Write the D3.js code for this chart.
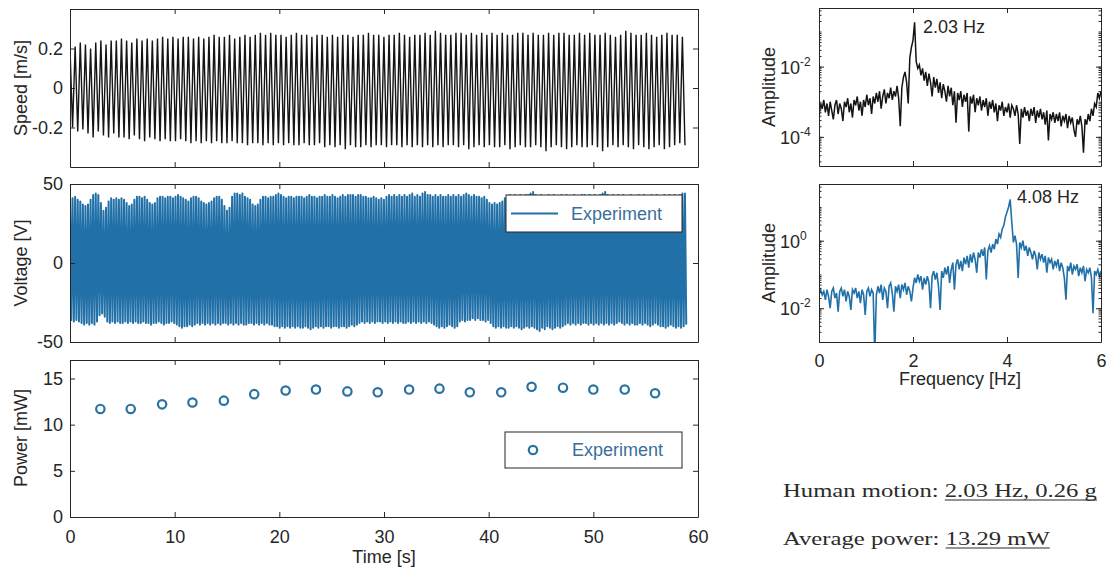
<!DOCTYPE html>
<html>
<head>
<meta charset="utf-8">
<script src="https://cdn.jsdelivr.net/npm/d3@7"></script>
<style>
  body { margin: 0; background: #fff; }
</style>
</head>
<body>
<div id="chart"></div>
<script>
// ---- data ----

// speed: one peak and one trough per cycle (about 2.03 Hz over 59 s)
const speedPeaks = [
  0.20,0.21,0.23,0.22,0.20,0.23,0.24,0.22,0.24,0.24,
  0.25,0.24,0.23,0.25,0.24,0.25,0.24,0.25,0.26,0.25,
  0.26,0.25,0.26,0.26,0.25,0.26,0.25,0.26,0.27,0.26,
  0.26,0.27,0.25,0.26,0.27,0.26,0.27,0.28,0.27,0.28,
  0.27,0.27,0.26,0.27,0.28,0.27,0.27,0.26,0.27,0.27,
  0.26,0.27,0.26,0.27,0.27,0.26,0.27,0.27,0.28,0.27,
  0.27,0.26,0.27,0.27,0.28,0.27,0.26,0.27,0.27,0.28,
  0.27,0.29,0.28,0.27,0.27,0.28,0.28,0.27,0.28,0.27,
  0.28,0.27,0.28,0.27,0.28,0.27,0.27,0.28,0.28,0.27,
  0.28,0.27,0.27,0.28,0.27,0.28,0.28,0.27,0.27,0.28,
  0.27,0.28,0.27,0.27,0.28,0.27,0.26,0.27,0.29,0.28,
  0.27,0.27,0.28,0.27,0.26,0.27,0.28,0.27,0.27,0.26];
const speedTroughs = [
  -0.20,-0.22,-0.21,-0.23,-0.25,-0.22,-0.24,-0.25,-0.23,-0.25,
  -0.25,-0.26,-0.24,-0.26,-0.27,-0.25,-0.26,-0.27,-0.26,-0.27,
  -0.27,-0.26,-0.27,-0.28,-0.27,-0.28,-0.27,-0.28,-0.27,-0.28,
  -0.28,-0.27,-0.28,-0.28,-0.29,-0.28,-0.28,-0.29,-0.28,-0.29,
  -0.28,-0.29,-0.28,-0.29,-0.29,-0.28,-0.29,-0.29,-0.28,-0.30,
  -0.29,-0.30,-0.29,-0.31,-0.29,-0.30,-0.30,-0.29,-0.30,-0.29,
  -0.29,-0.30,-0.29,-0.29,-0.30,-0.29,-0.30,-0.29,-0.30,-0.29,
  -0.30,-0.29,-0.30,-0.29,-0.29,-0.30,-0.29,-0.31,-0.30,-0.29,
  -0.30,-0.29,-0.30,-0.30,-0.29,-0.31,-0.30,-0.29,-0.30,-0.30,
  -0.29,-0.30,-0.32,-0.30,-0.29,-0.30,-0.31,-0.30,-0.29,-0.30,
  -0.30,-0.29,-0.30,-0.32,-0.30,-0.29,-0.30,-0.29,-0.30,-0.31,
  -0.29,-0.30,-0.31,-0.30,-0.29,-0.31,-0.30,-0.29,-0.28,-0.29];
const speedCycle = 59 / 120;   // s per cycle

// voltage: one peak and one trough per cycle (about 4.08 Hz)
const voltPeaks = [
  42,41,42,40,39,37,36,37,40,43, 44,43,38,33,35,39,41,40,41,40,
  41,40,38,36,37,40,42,42,41,42, 40,38,37,38,41,42,42,41,42,42,
  41,42,43,42,41,40,39,41,42,42, 41,39,38,37,38,39,41,42,42,40,
  36,33,35,42,44,44,43,44,42,41, 40,37,36,37,40,42,42,41,42,42,
  43,44,43,42,41,42,42,41,42,42, 42,41,42,43,42,42,41,42,42,43,
  42,42,43,42,41,42,43,42,43,43, 43,42,43,43,42,42,41,41,42,41,
  40,41,40,42,43,42,43,42,43,42, 43,42,43,44,42,43,42,44,45,43,
  43,42,43,42,43,42,42,43,42,43, 42,43,42,43,44,43,42,43,42,42,
  41,42,40,38,37,38,37,38,39,41, 42,43,42,43,42,43,42,43,43,44,
  45,43,42,43,42,42,43,42,43,42, 42,43,42,43,42,42,43,42,42,43,
  43,42,43,42,43,42,43,44,45,43, 42,43,42,43,42,43,42,42,43,42,
  42,43,42,43,42,42,43,42,43,42, 42,43,42,43,42,43,42,43,44,44];
const voltTroughs = [
  -36,-37,-36,-37,-38,-39,-38,-39,-38,-39, -37,-33,-32,-34,-37,-38,-37,-38,-37,-38,
  -38,-37,-38,-37,-38,-37,-38,-38,-37,-38, -38,-39,-38,-38,-37,-38,-39,-38,-38,-37,
  -38,-39,-40,-41,-40,-40,-39,-40,-39,-38, -39,-38,-39,-38,-39,-38,-39,-38,-39,-38,
  -38,-39,-38,-39,-38,-39,-38,-39,-39,-38, -38,-39,-38,-39,-38,-39,-38,-39,-39,-40,
  -40,-41,-40,-41,-40,-41,-40,-41,-40,-41, -41,-40,-41,-42,-41,-40,-41,-40,-41,-40,
  -40,-41,-40,-40,-41,-40,-40,-41,-40,-39, -40,-39,-38,-37,-38,-37,-38,-37,-38,-37,
  -37,-38,-37,-38,-37,-38,-37,-38,-37,-38, -38,-37,-38,-37,-38,-37,-38,-37,-38,-37,
  -38,-39,-40,-41,-40,-41,-40,-39,-40,-41, -40,-37,-36,-37,-36,-36,-35,-36,-35,-36,
  -36,-37,-36,-38,-40,-41,-40,-41,-40,-41, -41,-40,-41,-40,-41,-42,-41,-40,-41,-40,
  -41,-42,-43,-41,-42,-40,-41,-42,-41,-40, -41,-40,-39,-38,-39,-38,-39,-38,-39,-38,
  -38,-39,-38,-39,-38,-39,-38,-39,-38,-39, -38,-39,-38,-37,-38,-39,-38,-39,-38,-39,
  -39,-38,-39,-38,-39,-40,-39,-38,-39,-40, -40,-41,-40,-39,-40,-41,-40,-41,-40,-39];
const voltCycle = 59 / 240;

// average power per window
const powerTime  = [2.9,5.8,8.8,11.7,14.7,17.6,20.6,23.5,26.5,29.4,32.4,35.3,38.2,41.2,44.1,47.1,50.0,53.0,55.9];
const powerValue = [11.7,11.7,12.2,12.4,12.6,13.3,13.7,13.8,13.6,13.5,13.8,13.9,13.5,13.5,14.1,14.0,13.8,13.8,13.4];

// spectra, log10(amplitude) per FFT bin
const fftBinHz = 2 / 59;
const speedSpecLog10 = [
  -3.45,-3.05,-3.20,-2.95,-3.30,-3.05,-3.40,-3.00,-3.25,-3.50,
  -3.10,-2.95,-3.35,-3.05,-3.20,-3.55,-3.00,-3.15,-2.90,-3.30,
  -3.05,-3.45,-2.95,-3.10,-2.85,-3.25,-3.00,-3.40,-2.95,-3.15,
  -2.80,-3.10,-2.90,-3.35,-2.85,-3.05,-2.75,-3.00,-2.70,-3.20,
  -2.85,-2.65,-3.05,-2.75,-2.90,-2.60,-2.95,-2.70,-2.85,-2.55,
  -2.90,-3.70,-2.60,-2.30,-2.15,-2.45,-3.05,-1.75,-1.45,-1.25,
  -0.74,-1.85,-2.05,-1.95,-2.25,-2.05,-2.40,-2.15,-2.55,-2.20,
  -2.45,-2.85,-2.30,-2.60,-2.35,-2.75,-2.45,-2.90,-2.50,-2.70,
  -3.00,-2.55,-2.85,-2.60,-3.10,-2.70,-3.60,-2.75,-2.95,-2.70,
  -3.15,-2.80,-3.00,-2.75,-3.85,-2.85,-3.05,-2.80,-3.30,-2.90,
  -3.10,-2.85,-3.25,-2.95,-3.15,-2.90,-3.40,-3.00,-3.20,-2.95,
  -3.30,-3.05,-3.55,-3.10,-3.25,-3.00,-3.40,-3.15,-3.30,-3.05,
  -3.45,-3.10,-3.20,-3.40,-3.10,-3.35,-4.20,-3.20,-3.45,-3.15,
  -3.40,-3.25,-3.55,-3.20,-3.40,-3.15,-3.60,-3.25,-3.45,-3.20,
  -3.50,-3.30,-3.65,-3.25,-4.10,-3.35,-3.50,-3.30,-3.60,-3.35,
  -3.55,-3.30,-3.70,-3.40,-3.55,-3.35,-3.75,-3.40,-3.60,-3.45,
  -3.80,-4.00,-3.50,-3.65,-3.40,-3.70,-4.45,-3.50,-3.65,-3.35,
  -3.55,-3.20,-3.40,-3.05,-3.15,-2.75,-2.90,-2.70];
const voltSpecLog10 = [
  -1.55,-1.45,-1.60,-1.50,-1.75,-1.45,-1.65,-2.00,-1.50,-1.40,
  -1.70,-1.55,-2.10,-1.50,-1.40,-1.65,-1.45,-1.80,-1.50,-1.65,
  -2.05,-1.45,-1.55,-1.40,-1.70,-1.50,-1.85,-1.45,-1.60,-2.20,
  -1.50,-1.40,-1.65,-1.45,-1.55,-3.40,-1.60,-1.35,-1.55,-1.30,
  -1.75,-1.40,-1.50,-2.00,-1.35,-1.25,-1.55,-2.10,-1.35,-1.50,
  -1.30,-1.70,-1.30,-1.45,-1.25,-1.60,-1.35,-1.50,-1.80,-1.40,
  -1.10,-1.25,-1.00,-1.20,-1.05,-1.45,-1.10,-1.30,-1.05,-1.25,
  -2.00,-1.05,-0.90,-1.15,-0.95,-1.35,-2.05,-0.90,-1.10,-0.80,
  -1.00,-0.75,-1.25,-0.85,-0.65,-1.45,-0.70,-0.55,-0.85,-0.60,
  -0.90,-0.50,-0.70,-0.45,-0.80,-0.40,-0.65,-0.35,-0.55,-0.95,
  -0.35,-0.50,-0.25,-0.45,-0.20,-1.15,-0.30,-0.15,-0.35,-0.10,
  -0.25,0.05,-0.10,0.20,0.10,0.35,0.45,0.70,0.85,1.00,
  1.22,0.55,-0.05,0.15,-0.10,-1.10,-0.05,-0.20,0.00,-0.30,
  -0.15,-0.45,-0.20,-0.35,-0.55,-0.30,-0.45,-0.85,-0.35,-0.55,
  -0.40,-0.65,-0.45,-0.95,-0.50,-0.65,-0.55,-0.85,-0.60,-0.75,
  -0.55,-0.90,-0.65,-0.80,-1.10,-1.75,-0.75,-0.90,-0.65,-1.00,
  -0.75,-0.85,-0.70,-1.05,-0.80,-0.95,-0.75,-1.20,-0.85,-0.95,
  -0.80,-1.10,-2.15,-0.90,-1.00,-0.85,-1.05,-0.90];

const timeTicks = [0, 10, 20, 30, 40, 50, 60];
const freqTicks = [0, 2, 4, 6];

// ---- drawing ----
const width = 1109, height = 569;
const ink = "#262626";
const blue = "#2170a8";
const font = "'Liberation Sans', Arial, sans-serif";

const svg = d3.select("#chart")
  .append("svg")
  .attr("width", width)
  .attr("height", height)
  .attr("font-family", font);

const defs = svg.append("defs");
let clipCount = 0;
function clipFor(x, y) {
  const id = "clip" + (clipCount++);
  const [x0, x1] = x.range(), [y0, y1] = y.range();
  defs.append("clipPath").attr("id", id)
    .append("rect").attr("x", x0).attr("y", y1).attr("width", x1 - x0).attr("height", y0 - y1);
  return "url(#" + id + ")";
}

function styleAxis(g) {
  g.attr("font-family", font).attr("font-size", 18);
  g.selectAll("path.domain").attr("stroke", ink);
  g.selectAll(".tick line").attr("stroke", ink);
  g.selectAll(".tick text").attr("fill", ink);
}

// box with inward ticks on all four sides, MATLAB style
function drawBox(x, y, opt) {
  const [xl, xr] = x.range();
  const [yb, yt] = y.range();
  const g = svg.append("g");
  g.append("g").attr("transform", `translate(0,${yb})`)
    .call(d3.axisBottom(x).tickValues(opt.xTicks).tickSizeInner(-5).tickSizeOuter(0)
      .tickPadding(opt.xPad || 12).tickFormat(opt.xLabels ? (d => d) : () => ""))
    .call(styleAxis);
  g.append("g").attr("transform", `translate(0,${yt})`)
    .call(d3.axisTop(x).tickValues(opt.xTicks).tickSizeInner(-5).tickSizeOuter(0).tickFormat(() => ""))
    .call(styleAxis);
  g.append("g").attr("transform", `translate(${xl},0)`)
    .call(d3.axisLeft(y).tickValues(opt.yTicks).tickSizeInner(-5).tickSizeOuter(0)
      .tickPadding(7).tickFormat(opt.yFormat || (() => "")))
    .call(styleAxis);
  g.append("g").attr("transform", `translate(${xr},0)`)
    .call(d3.axisRight(y).tickValues(opt.yTicks).tickSizeInner(-5).tickSizeOuter(0).tickFormat(() => ""))
    .call(styleAxis);
  if (opt.minor) {
    g.append("g").attr("transform", `translate(${xl},0)`)
      .call(d3.axisLeft(y).tickValues(opt.minor).tickSizeInner(-2.5).tickSizeOuter(0).tickFormat(() => ""))
      .call(styleAxis).select("path.domain").remove();
    g.append("g").attr("transform", `translate(${xr},0)`)
      .call(d3.axisRight(y).tickValues(opt.minor).tickSizeInner(-2.5).tickSizeOuter(0).tickFormat(() => ""))
      .call(styleAxis).select("path.domain").remove();
  }
  return g;
}

function yTitle(text, cx, cy) {
  svg.append("text")
    .attr("transform", `translate(${cx},${cy}) rotate(-90)`)
    .attr("text-anchor", "middle")
    .attr("font-size", 18).attr("fill", ink)
    .text(text);
}

function logLabels(y, values, xText) {
  values.forEach(v => {
    const t = svg.append("text")
      .attr("x", xText).attr("y", y(v) + 7)
      .attr("font-size", 18).attr("fill", ink);
    t.append("tspan").text("10");
    t.append("tspan").attr("font-size", 12).attr("dy", -8).text(Math.round(Math.log10(v)));
  });
}

// shared time axis for the three left panels
const xTime = d3.scaleLinear().domain([0, 60]).range([70, 698]);
const fmtPlain = d => String(d);

// ---- speed ----
const ySpeed = d3.scaleLinear().domain([-0.4, 0.4]).range([167, 9]);
const speedPts = [];
speedPeaks.forEach((p, i) => {
  speedPts.push([i * speedCycle, p]);
  speedPts.push([(i + 0.5) * speedCycle, speedTroughs[i]]);
});
svg.append("path")
  .datum(speedPts)
  .attr("clip-path", clipFor(xTime, ySpeed))
  .attr("fill", "none")
  .attr("stroke", "#141414")
  .attr("stroke-width", 1.4)
  .attr("d", d3.line().x(d => xTime(d[0])).y(d => ySpeed(d[1])));
drawBox(xTime, ySpeed, { xTicks: timeTicks, yTicks: [-0.2, 0, 0.2], yFormat: fmtPlain });
yTitle("Speed [m/s]", 27, 88);

// ---- voltage ----
const yVolt = d3.scaleLinear().domain([-50, 50]).range([342, 184]);
const voltPts = [];
voltPeaks.forEach((p, i) => {
  voltPts.push([i * voltCycle, p]);
  voltPts.push([(i + 0.5) * voltCycle, voltTroughs[i]]);
});
svg.append("path")
  .datum(voltPts)
  .attr("clip-path", clipFor(xTime, yVolt))
  .attr("fill", "none")
  .attr("stroke", blue)
  .attr("stroke-width", 2)
  .attr("stroke-linejoin", "round")
  .attr("d", d3.line().x(d => xTime(d[0])).y(d => yVolt(d[1])));
drawBox(xTime, yVolt, { xTicks: timeTicks, yTicks: [-50, 0, 50], yFormat: fmtPlain });
yTitle("Voltage [V]", 27, 263);

const leg1 = svg.append("g");
leg1.append("rect").attr("x", 506).attr("y", 195).attr("width", 176).attr("height", 37)
  .attr("fill", "#fff").attr("stroke", ink).attr("stroke-width", 1);
leg1.append("line").attr("x1", 511).attr("x2", 558).attr("y1", 213.5).attr("y2", 213.5)
  .attr("stroke", blue).attr("stroke-width", 2);
leg1.append("text").attr("x", 571).attr("y", 220).attr("font-size", 18).attr("fill", "#3a6e9c").text("Experiment");

// ---- power ----
const yPower = d3.scaleLinear().domain([0, 17]).range([517, 360]);
drawBox(xTime, yPower, { xTicks: timeTicks, yTicks: [0, 5, 10, 15], yFormat: fmtPlain, xLabels: true, xPad: 13 });
svg.append("g")
  .selectAll("circle")
  .data(powerTime)
  .enter()
  .append("circle")
    .attr("cx", (d) => xTime(d))
    .attr("cy", (d, i) => yPower(powerValue[i]))
    .attr("r", 4.2)
    .attr("fill", "none")
    .attr("stroke", "#2a72a3")
    .attr("stroke-width", 2.2);
yTitle("Power [mW]", 27, 438);
svg.append("text").attr("x", 384).attr("y", 563).attr("text-anchor", "middle")
  .attr("font-size", 18).attr("fill", ink).text("Time [s]");

const leg2 = svg.append("g");
leg2.append("rect").attr("x", 505).attr("y", 432).attr("width", 177).attr("height", 36)
  .attr("fill", "#fff").attr("stroke", ink).attr("stroke-width", 1);
leg2.append("circle").attr("cx", 533).attr("cy", 450).attr("r", 4.2)
  .attr("fill", "none").attr("stroke", "#2a72a3").attr("stroke-width", 2.2);
leg2.append("text").attr("x", 572).attr("y", 456).attr("font-size", 18).attr("fill", "#3a6e9c").text("Experiment");

// ---- spectra ----
const xFreq = d3.scaleLinear().domain([0, 6]).range([819, 1101]);

const ySpec1 = d3.scaleLog().domain([Math.pow(10, -4.83), Math.pow(10, -0.33)]).range([166, 8]);
svg.append("path")
  .datum(speedSpecLog10)
  .attr("clip-path", clipFor(xFreq, ySpec1))
  .attr("fill", "none")
  .attr("stroke", "#141414")
  .attr("stroke-width", 1.5)
  .attr("d", d3.line().x((d, i) => xFreq(i * fftBinHz)).y(d => ySpec1(Math.pow(10, d))));
drawBox(xFreq, ySpec1, { xTicks: freqTicks, yTicks: [1e-4, 1e-2], minor: ySpec1.ticks() });
logLabels(ySpec1, [1e-4, 1e-2], 780);
yTitle("Amplitude", 775, 87);
svg.append("text").attr("x", 923).attr("y", 33).attr("font-size", 18).attr("fill", ink).text("2.03 Hz");

const ySpec2 = d3.scaleLog().domain([1e-3, Math.pow(10, 1.68)]).range([342, 184]);
svg.append("path")
  .datum(voltSpecLog10)
  .attr("clip-path", clipFor(xFreq, ySpec2))
  .attr("fill", "none")
  .attr("stroke", blue)
  .attr("stroke-width", 1.6)
  .attr("d", d3.line().x((d, i) => xFreq(i * fftBinHz)).y(d => ySpec2(Math.pow(10, d))));
drawBox(xFreq, ySpec2, { xTicks: freqTicks, yTicks: [1e-2, 1], minor: ySpec2.ticks(), xLabels: true, xPad: 12 });
logLabels(ySpec2, [1e-2, 1], 780);
yTitle("Amplitude", 775, 263);
svg.append("text").attr("x", 1017).attr("y", 203).attr("font-size", 18).attr("fill", ink).text("4.08 Hz");
svg.append("text").attr("x", 960).attr("y", 385).attr("text-anchor", "middle")
  .attr("font-size", 18).attr("fill", ink).text("Frequency [Hz]");

// ---- summary text ----
function summary(label, value, y) {
  const g = svg.append("g").attr("transform", `translate(783,${y}) scale(1.3,1)`);
  const t = g.append("text")
    .attr("font-family", "'Liberation Serif', 'Times New Roman', serif")
    .attr("font-size", 19).attr("fill", "#2b2b2b");
  t.append("tspan").text(label + " ");
  t.append("tspan").text(value);
  const start = t.node().getSubStringLength(0, label.length + 1);
  const len = t.node().getSubStringLength(label.length + 1, value.length);
  g.append("line").attr("x1", start).attr("x2", start + len).attr("y1", 3).attr("y2", 3)
    .attr("stroke", "#2b2b2b").attr("stroke-width", 1);
}
summary("Human motion:", "2.03 Hz, 0.26 g", 497);
summary("Average power:", "13.29 mW", 545);
</script>
</body>
</html>
